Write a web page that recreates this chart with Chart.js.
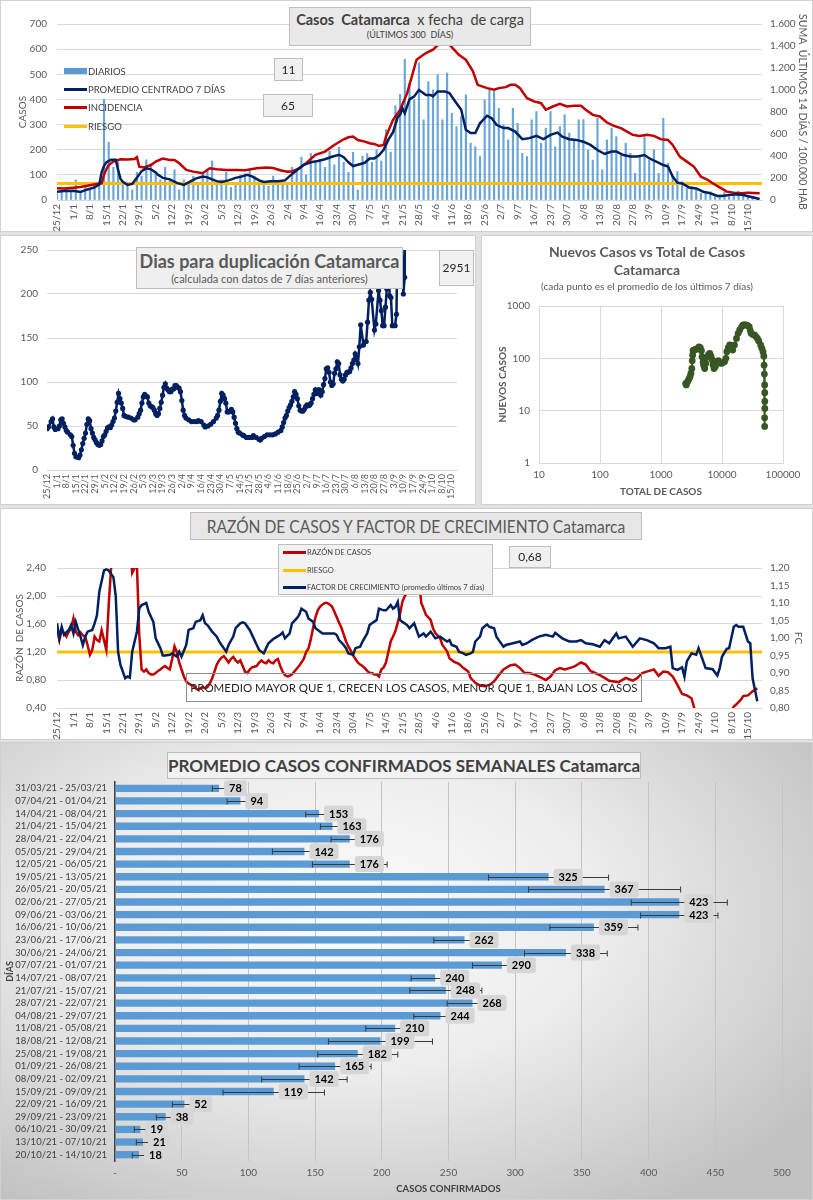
<!DOCTYPE html>
<html lang="es">
<head>
<meta charset="UTF-8">
<title>Casos Catamarca</title>
<script src="https://cdn.jsdelivr.net/npm/chart.js"></script>
<style>
  body { margin: 0; width: 813px; height: 1200px; background: #e2e2e2; position: relative; overflow: hidden;
         font-family: Lato, "Open Sans", sans-serif; }
  .panel { position: absolute; background: #fff; box-shadow: inset 0 0 0 1px #d0d0d0; }
  .panel canvas { position: absolute; left: 0; top: 0; }
  .caja { position: absolute; box-sizing: border-box; background: #e9e9e9; border: 1px solid #bdbdbd; color: #404040; text-align: center; white-space: nowrap; overflow: hidden; }
  .valor { background: #f0f0f0; font-size: 12px; color: #262626; }
  .fila { position: absolute; display: flex; align-items: center; font-size: 9.5px; color: #404040; white-space: nowrap; height: 14px; }
  .fila span { display: inline-block; width: 23px; margin-right: 1px; }
  .t3 { position: absolute; left: 0; width: 332px; text-align: center; color: #595959; white-space: nowrap; }
  .estrecho { position: absolute; left: 50%; top: 0; white-space: nowrap; transform: translateX(-50%) scaleX(0.865); }
</style>
</head>
<body>

<div class="panel" style="left:0;top:0;width:813px;height:232px">
  <canvas id="c1" width="813" height="232"></canvas>
  <div class="caja" style="left:289px;top:7px;width:242px;height:39px">
    <div style="font-size:14.5px;line-height:19px;margin-top:2px"><b>Casos&nbsp; Catamarca</b>&nbsp; x fecha&nbsp; de carga</div>
    <div style="font-size:9px;line-height:12px">(ÚLTIMOS 300&nbsp; DÍAS)</div>
  </div>
  <div class="fila" style="left:64px;top:64px"><span style="height:6px;background:#5b9bd5"></span>DIARIOS</div>
  <div class="fila" style="left:64px;top:82px"><span style="height:3px;background:#002060"></span>PROMEDIO CENTRADO 7 DÍAS</div>
  <div class="fila" style="left:64px;top:100px"><span style="height:3px;background:#c00000"></span>INCIDENCIA</div>
  <div class="fila" style="left:64px;top:119px"><span style="height:3px;background:#ffc000"></span>RIESGO</div>
  <div class="caja valor" style="left:274px;top:58px;width:29px;height:23px;line-height:21px">11</div>
  <div class="caja valor" style="left:263px;top:94px;width:50px;height:23px;line-height:21px">65</div>
</div>

<div class="panel" style="left:0;top:235px;width:476px;height:270px">
  <canvas id="c2" width="476" height="270"></canvas>
  <div class="caja" style="left:136px;top:12px;width:267px;height:42px;background:#efefef;color:#595959">
    <div style="font-size:18px;font-weight:bold;line-height:22px;margin-top:2px">Dias para duplicación Catamarca</div>
    <div style="font-size:11px;line-height:14px">(calculada con datos de 7 días anteriores)</div>
  </div>
  <div class="caja valor" style="left:439px;top:15px;width:35px;height:36px;line-height:34px">2951</div>
</div>

<div class="panel" style="left:481px;top:235px;width:332px;height:270px">
  <canvas id="c3" width="332" height="270"></canvas>
  <div class="t3" style="top:8px;font-size:14px;font-weight:bold;line-height:18px">Nuevos Casos vs Total de Casos<br>Catamarca</div>
  <div class="t3" style="top:45px;font-size:10px;line-height:13px">(cada punto es el promedio de los últimos 7 días)</div>
</div>

<div class="panel" style="left:0;top:508px;width:813px;height:232px">
  <canvas id="c4" width="813" height="232"></canvas>
  <div class="caja" style="left:190px;top:4px;width:452px;height:28px;line-height:26px;font-size:18px;color:#595959;background:#e6e6e6"><div class="estrecho">RAZÓN DE CASOS Y FACTOR DE CRECIMIENTO Catamarca</div></div>
  <div class="caja" style="left:278px;top:36px;width:215px;height:51px;background:#f2f2f2"></div>
  <div class="fila" style="left:283px;top:37px;font-size:7.5px"><span style="height:3px;background:#c00000"></span>RAZÓN DE CASOS</div>
  <div class="fila" style="left:283px;top:55px;font-size:7.5px"><span style="height:3px;background:#ffc000"></span>RIESGO</div>
  <div class="fila" style="left:283px;top:72px;font-size:7.5px"><span style="height:3px;background:#002060"></span>FACTOR DE CRECIMIENTO (promedio últimos 7 días)</div>
  <div class="caja valor" style="left:509px;top:38px;width:42px;height:22px;line-height:20px">0,68</div>
  <div class="caja" style="left:186px;top:165px;width:456px;height:29px;line-height:27px;background:transparent;border-color:#8c8c8c;font-size:11.5px;color:#262626">PROMEDIO MAYOR QUE 1, CRECEN LOS CASOS, MENOR QUE 1, BAJAN LOS CASOS</div>
</div>

<div class="panel" style="left:0;top:742px;width:813px;height:458px;background:radial-gradient(ellipse 70% 75% at 42% 38%, #fbfbfb 0%, #ededed 45%, #d2d2d2 80%, #c2c2c2 100%)">
  <canvas id="c5" width="813" height="458"></canvas>
  <div class="caja" style="left:167px;top:10px;width:474px;height:27px;line-height:25px;font-size:17px;font-weight:bold;background:#f2f2f2">PROMEDIO CASOS CONFIRMADOS SEMANALES Catamarca</div>
</div>

<script>
// etiquetas semanales del eje de fechas (día 0 = 25/12)
const fechas = ['25/12','1/1','8/1','15/1','22/1','29/1','5/2','12/2','19/2','26/2','5/3','12/3','19/3','26/3','2/4','9/4','16/4','23/4','30/4','7/5','14/5','21/5','28/5','4/6','11/6','18/6','25/6','2/7','9/7','16/7','23/7','30/7','6/8','13/8','20/8','27/8','3/9','10/9','17/9','24/9','1/10','8/10','15/10'];

// casos diarios, uno cada 2 días desde 25/12
const diarios = [
  25,40,45,30,80,35,50,45,60,70,
  400,230,130,150,60,55,40,110,95,160,
  140,110,80,130,75,120,40,80,60,95,
  70,110,120,155,60,80,110,50,70,100,
  105,120,95,80,60,55,95,60,80,70,
  130,120,170,100,185,150,160,130,195,140,
  210,150,110,190,40,175,185,150,200,155,
  280,190,375,420,560,465,398,545,319,471,
  438,498,319,505,345,292,332,418,226,212,
  173,398,438,432,365,299,239,365,305,186,
  173,319,352,226,286,352,212,292,339,266,
  239,319,320,199,159,325,120,239,286,252,
  186,226,186,106,173,252,159,200,106,325,
  146,93,113,73,46,53,40,27,33,33,
  13,20,30,13,27,35,20,13,15,7];

// promedio centrado 7 días
const promDias = [0,3,7,10,13,16,18,19,20,21, 23,25,26,27,28,30,32,34,36,38, 40,42,43,45,48,51,54,56,59,62,
  64,66,68,70,73,76,78,81,83,86, 88,91,94,97,99,101,103,105,108,111, 114,117,120,122,124,126,128,131,133,135,
  137,139,141,143,145,146,147,148,150,152, 154,157,159,160,162,165,167,169,172,174, 176,178,180,183,185,187,190,192,195,198,
  201,204,207,210,213,215,218,221,224,227, 230,233,236,238,241,244,247,250,252,255, 258,260,262,264,266,269,272,275,278,281,
  283,286,289,292,295,299];
const promVals = [33,36,37,32,42,50,62,110,135,150, 160,160,120,85,72,60,64,88,115,126, 122,110,100,88,82,68,60,70,85,93,
  90,82,75,72,78,88,92,100,94,78, 72,75,75,78,95,110,125,140,150,155, 162,172,180,170,150,135,140,148,165,165,
  178,200,240,270,330,339,365,345,400,412, 438,418,418,412,432,432,425,398,359,279, 266,266,305,335,325,299,286,286,272,242,
  246,255,242,259,268,252,242,239,232,219, 199,183,193,193,179,173,173,179,166,153, 139,133,93,69,66,50,46,33,27,16,
  16,20,23,20,13,4];

// incidencia: suma últimos 14 días / 100.000 hab
const incDias = [0,3,7,10,14,18,19,20,21,22, 24,27,30,33,34,35,37,40,42,45, 48,50,52,55,58,62,65,68,72,76,
  80,85,89,92,95,98,100,103,106,110, 114,118,122,124,126,128,131,133,135,137, 139,140,143,146,149,153,154,157,160,163,
  167,171,174,177,179,183,186,188,191,193, 195,197,200,203,206,208,211,214,217,220, 223,225,228,231,234,237,240,242,245,248,
  251,254,257,260,262,265,268,271,274,277, 279,282,285,288,291,294,299];
const incVals = [106,105,112,118,135,150,152,230,280,318, 349,370,368,372,389,303,295,318,349,376, 364,364,334,273,258,243,288,280,273,273,
  270,288,295,290,270,258,260,288,334,410, 440,500,552,570,577,545,531,516,510,492, 500,577,729,820,971,1275,1290,1336,1366,1427,
  1412,1320,1275,1169,1047,1017,1002,1017,1026,1047, 1047,1017,926,896,880,820,850,874,850,856, 856,820,774,759,704,674,653,628,592,583,
  592,583,553,546,501,395,349,304,212,182, 152,115,76,67,61,67,61];
const riesgoInc = 150;

// días para duplicación
const dupDias = [0,1,3,4,5,6,8,9,10,11, 12,13,14,15,17,18,19,20,21,23, 24,25,26,27,28,29,30,31,32,33,
  34,35,36,37,38,39,40,41,42,43, 44,45,46,47,48,49,50,51,52,53, 54,55,56,57,59,61,63,64,66,67,
  68,69,70,71,72,73,74,75,76,77, 78,79,80,81,82,83,84,85,86,87, 88,89,90,91,92,93,94,95,96,97,
  98,99,100,101,103,105,107,109,110,112, 114,115,117,119,121,123,124,125,126,127, 128,129,130,131,132,133,134,135,136,137,
  138,139,140,142,143,145,147,149,150,152, 154,155,156,158,160,162,164,166,168,170, 171,172,173,174,175,176,177,178,179,180,
  181,182,183,184,185,186,187,188,189,190, 191,192,193,194,195,196,197,198,199,200, 201,202,203,204,205,206,207,208,209,210,
  211,212,213,214,215,216,217,218,219,220, 221,222,223,224,225,226,227,228,230,232, 233,234,235,236,238,239,241,242,243,244,
  245,246,247,248,249,250,251,253,254,255, 257,259,260,261];
const dupVals = [47,49,55,58,49,46,47,50,57,58, 53,49,45,43,40,38,28,19,15,14, 17,23,30,36,42,52,58,56,47,42,
  37,34,31,29,28,29,33,38,40,44, 48,49,48,51,55,59,67,77,87,81, 76,70,62,61,60,59,57,57,60,64,
  68,76,83,86,84,83,76,73,72,71, 68,64,62,64,70,77,85,94,98,93, 91,89,89,92,92,96,96,94,93,89,
  79,68,62,59,57,55,55,55,56,55, 51,49,50,52,55,59,62,68,78,87, 85,81,76,66,66,67,69,66,60,53,
  47,43,42,40,39,37,37,37,39,37, 35,34,36,38,40,40,40,41,43,45, 49,54,59,62,67,71,74,78,83,89,
  86,81,73,68,67,67,69,72,74,73, 74,76,81,86,91,87,91,91,85,89, 97,104,115,116,111,100,96,98,110,115,
  123,121,108,103,101,103,108,111,111,112, 116,121,125,132,128,121,140,165,142,146, 168,193,202,194,159,166,204,193,181,164,
  164,185,206,300,198,196,164,164,177,300, 300,200,219,2951];

// nuevos casos vs total de casos (promedio 7 días)
const totalCasos = [2535,2600,2700,2800,2900,3000,3100,3200,3250,3300, 3350,3450,3600,3800,4000,4200,4400,4600,4700,4900,
  5000,5200,5400,5700,6000,6300,6600,6900,7100,7400, 7800,8200,8700,9200,9800,10400,11000,11600,12000,12700,
  13400,14200,15000,16000,17300,18400,19500,21000,22000,23500, 25000,26500,28000,29000,30000,32000,34000,36000,38000,40000,
  43000,45000,47000,48500,49000,49500,50000,50200,50300,50300, 50000,50100];
const nuevosCasos = [33,31,35,38,41,45,52,64,90,115, 140,144,146,150,155,166,160,140,107,85,
  74,64,80,105,118,124,110,93,75,64, 70,86,90,82,80,84,86,100,134,160,
  180,165,144,180,240,300,348,400,432,440, 432,420,400,340,300,285,280,260,240,215,
  180,155,134,110,74,50,31,22,15,11, 7.3,5];

// razón de casos
const razonDias = [0,1,2,3,4,5,6,7,8,9, 10,11,12,13,14,15,16,17,18,19, 20,21,22,23,24,
  31,32,33,34,35,36,37,38,39,40, 41,42,43,44,45,46,47,48,49,50, 51,52,53,54,55,56,57,58,59,60,
  61,62,63,64,65,66,67,68,69,70, 71,72,73,74,75,76,77,78,79,80, 81,82,83,84,85,86,87,88,89,90,
  91,92,93,94,95,96,97,98,99,100, 101,102,103,104,105,106,107,108,109,110, 111,112,113,114,115,116,117,118,119,120,
  121,122,123,124,125,126,127,128,129,130, 131,132,133,134,135,136,137,138,139,140, 141,142,143,144,145,146,147,148,149,
  151,153,155,156,157,159,160,161,163,164, 166,167,169,171,173,175,176,178,180,182, 184,186,188,190,193,195,197,199,201,203,
  205,208,210,212,214,216,218,220,223,225, 227,229,231,233,235,237,239,242,245,247, 249,252,254,256,258,260,262,264,266,268,
  270,271,272,286,288,289,291,292,294,296, 298];
const razonVals = [1.54,1.37,1.51,1.47,1.42,1.49,1.54,1.68,1.49,1.44, 1.48,1.44,1.42,1.30,1.16,1.23,1.42,1.37,1.35,1.51, 1.37,1.23,1.87,2.39,2.7,
  2.7,2.33,2.40,2.45,1.45,0.95,0.92,0.95,0.90,0.88, 0.88,0.90,0.93,0.95,0.98,1.00,0.97,0.95,1.10,1.28, 1.20,1.05,0.95,0.85,0.78,0.75,0.73,0.72,0.68,0.66,
  0.68,0.70,0.68,0.70,0.75,0.82,0.92,1.02,1.08,1.12, 1.14,1.10,1.05,1.10,1.13,1.08,1.05,1.08,1.00,0.92, 0.90,0.95,0.98,0.99,1.00,1.05,1.08,1.05,1.04,1.08,
  1.05,1.04,1.08,1.10,1.00,0.92,0.87,0.85,0.86,0.88, 0.92,0.96,1.00,1.05,1.10,1.20,1.25,1.38,1.55,1.70, 1.80,1.85,1.88,1.90,1.90,1.88,1.85,1.78,1.70,1.62,
  1.55,1.45,1.35,1.28,1.22,1.15,1.10,1.05,1.02,1.00, 0.97,0.93,0.90,0.90,0.88,0.88,0.85,0.95,0.98,1.05, 1.20,1.35,1.42,1.50,1.62,1.75,1.92,2.00,2.05,
  2.5,2.6,1.9,1.82,1.73,1.66,1.54,1.47,1.40,1.30, 1.21,1.11,1.06,1.03,0.97,0.92,0.83,0.76,0.72,0.71, 0.73,0.78,0.87,0.95,1.01,1.02,0.97,0.90,0.90,0.88,
  0.85,0.80,0.85,0.94,0.97,0.95,0.97,0.99,1.05,1.02, 0.93,0.90,0.87,0.83,0.79,0.78,0.77,0.83,0.79,0.83, 0.90,0.93,0.95,0.86,0.92,0.91,0.85,0.73,0.60,0.58,
  0.54,0.42,0.30,0.30,0.42,0.45,0.52,0.57,0.58,0.64, 0.68];
const riesgoRazon = 1.2;

// factor de crecimiento (promedio últimos 7 días)
const fcDias = [0,1,2,3,5,6,7,8,10,11, 12,13,15,16,17,18,20,21,22,24, 25,26,27,29,30,31,32,34,35,36,
  38,39,41,42,44,45,46,48,49,51, 52,53,55,56,58,59,61,62,63,64, 65,66,68,69,70,72,73,75,76,78,
  79,80,82,83,85,86,88,89,90,92, 93,95,96,97,99,100,102,103,104,106, 107,109,110,112,113,116,118,119,120,122,
  123,124,126,127,129,130,132,133,134,136, 137,139,140,142,143,144,145,146,147,149, 150,152,153,154,156,157,159,160,161,163,
  164,166,167,168,170,171,173,174,176,177, 178,180,181,183,184,186,187,188,190,191, 194,197,198,200,202,205,208,211,212,215,
  218,221,223,225,228,231,233,235,238,239, 242,245,248,251,254,256,259,261,262,264, 266,267,268,270,272,273,275,276,279,281,
  282,283,285,286,288,289,290,292,294,295, 296,298];
const fcVals = [1.042,1.00,1.032,1.009,1.023,1.037,1.013,1.046,1.004,0.98, 1.004,1.018,1.023,1.042,1.065,1.132,1.193,1.196,1.193,1.174,
  1.12,0.96,0.923,0.885,0.89,0.887,0.961,1.018,1.084,1.094, 1.10,1.075,1.046,0.999,0.971,0.95,0.95,0.952,0.956,0.947,
  0.961,0.947,0.98,1.023,1.028,1.046,1.051,1.065,1.042,1.037, 1.028,1.018,1.004,0.99,0.98,0.961,0.98,1.004,1.028,1.042,
  1.045,1.042,1.023,1.009,0.98,0.966,0.956,0.971,0.985,0.997, 1.001,1.009,1.016,0.999,1.013,1.042,1.056,1.065,1.084,1.075,
  1.056,1.046,1.028,1.018,1.013,1.013,1.013,1.009,0.994,0.98, 0.971,0.956,0.952,0.971,0.975,0.99,1.013,1.037,1.042,1.051,
  1.084,1.079,1.079,1.094,1.084,1.089,1.103,1.051,1.046,1.037, 1.028,1.042,1.023,1.004,1.013,1.004,1.018,1.009,0.999,1.004,
  0.999,0.99,0.994,0.98,0.975,0.961,0.956,0.952,0.956,0.961, 0.99,1.004,1.028,1.039,1.032,1.028,1.004,0.994,0.975,0.98,
  0.985,0.99,0.98,0.985,0.994,1.004,1.009,1.004,1.015,0.999, 0.99,0.99,0.994,0.985,0.982,0.975,0.994,0.985,1.013,0.999,
  1.004,0.975,0.999,0.994,0.985,0.971,0.971,0.975,0.914,0.909, 0.916,0.89,0.933,0.956,0.952,0.971,0.933,0.914,0.911,0.893,
  0.914,0.947,0.969,0.971,1.032,1.037,1.032,1.032,0.99,0.985, 0.885,0.819];

// promedio semanal de casos confirmados
const semanas = ['31/03/21 - 25/03/21','07/04/21 - 01/04/21','14/04/21 - 08/04/21','21/04/21 - 15/04/21','28/04/21 - 22/04/21',
  '05/05/21 - 29/04/21','12/05/21 - 06/05/21','19/05/21 - 13/05/21','26/05/21 - 20/05/21','02/06/21 - 27/05/21',
  '09/06/21 - 03/06/21','16/06/21 - 10/06/21','23/06/21 - 17/06/21','30/06/21 - 24/06/21','07/07/21 - 01/07/21',
  '14/07/21 - 08/07/21','21/07/21 - 15/07/21','28/07/21 - 22/07/21','04/08/21 - 29/07/21','11/08/21 - 05/08/21',
  '18/08/21 - 12/08/21','25/08/21 - 19/08/21','01/09/21 - 26/08/21','08/09/21 - 02/09/21','15/09/21 - 09/09/21',
  '22/09/21 - 16/09/21','29/09/21 - 23/09/21','06/10/21 - 30/09/21','13/10/21 - 07/10/21','20/10/21 - 14/10/21'];
const promSemanal = [78,94,153,163,176,142,176,325,367,423, 423,359,262,338,290,240,248,268,244,210, 199,182,165,142,119,52,38,19,21,18];
const errSemanal = [5,10,10,9,14,24,28,45,57,36, 29,33,23,31,22,18,27,19,20,22, 39,30,27,32,38,9,7,4.5,5,5];

Chart.defaults.font.family = 'Lato, "Open Sans", sans-serif';
Chart.defaults.color = '#595959';
Chart.defaults.animation = false;
Chart.defaults.responsive = false;
Chart.defaults.maintainAspectRatio = false;
Chart.defaults.events = [];
Chart.defaults.plugins.legend.display = false;
Chart.defaults.plugins.tooltip.enabled = false;

const AZUL = '#002060', ROJO = '#c00000', AMARILLO = '#ffc000', CELESTE = '#5b9bd5';
const pts = (xs, ys) => xs.map((x, i) => ({ x: x, y: ys[i] }));
const miles = v => v >= 1000 ? Math.floor(v / 1000) + '.' + String(v % 1000).padStart(3, '0') : String(v);
const coma = v => v.toFixed(2).replace('.', ',');

function ejeFechas(maximo, alto, tam) {
  return {
    type: 'linear', min: 0, max: maximo, offset: false,
    grid: { display: false, drawTicks: false },
    border: { color: '#d9d9d9' },
    ticks: {
      stepSize: 7, autoSkip: false, includeBounds: false, minRotation: 90, maxRotation: 90, padding: 4,
      font: { size: tam },
      callback: v => { const k = Math.round(v / 7); return Math.abs(v - 7 * k) < 0.01 ? (fechas[k] || '') : ''; }
    },
    afterFit: s => { s.height = alto; }
  };
}

// 1. casos diarios, promedio e incidencia
new Chart(document.getElementById('c1'), {
  type: 'bar',
  data: {
    datasets: [
      { type: 'line', data: pts(promDias, promVals), yAxisID: 'y', borderColor: AZUL, borderWidth: 2.5, pointRadius: 0, order: 1 },
      { type: 'line', data: pts(incDias, incVals), yAxisID: 'y2', borderColor: ROJO, borderWidth: 2.5, pointRadius: 0, order: 2 },
      { type: 'line', data: [{ x: 0, y: riesgoInc }, { x: 300, y: riesgoInc }], yAxisID: 'y2', borderColor: AMARILLO, borderWidth: 3, pointRadius: 0, order: 3 },
      { type: 'bar', data: diarios.map((v, i) => ({ x: i * 2, y: v })), yAxisID: 'y', backgroundColor: '#6aa5da', barThickness: 1.5, order: 4 }
    ]
  },
  options: {
    layout: { padding: { top: 24 } },
    scales: {
      x: ejeFechas(300, 32, 10),
      y: {
        min: 0, max: 700, ticks: { stepSize: 100, padding: 10, font: { size: 10 } },
        grid: { color: '#d9d9d9', drawTicks: false }, border: { display: false },
        title: { display: true, text: 'CASOS', font: { size: 10 }, padding: { top: 17, bottom: 0 } },
        afterFit: s => { s.width = 57; }
      },
      y2: {
        position: 'right', min: 0, max: 1600,
        ticks: { stepSize: 200, padding: 8, font: { size: 10 }, callback: miles },
        grid: { display: false, drawTicks: false }, border: { display: false },
        title: { display: true, text: 'SUMA  ÚLTIMOS 14 DÍAS / 100.000 HAB', font: { size: 10.5 }, padding: { top: 4, bottom: 0 } },
        afterFit: s => { s.width = 51; }
      }
    }
  }
});

// 2. días para duplicación
new Chart(document.getElementById('c2'), {
  type: 'line',
  data: { datasets: [{ data: pts(dupDias, dupVals), borderColor: AZUL, borderWidth: 2.5, pointRadius: 2.6, pointBackgroundColor: AZUL, pointBorderWidth: 0 }] },
  options: {
    layout: { padding: { top: 14, right: 19 } },
    scales: {
      x: ejeFechas(298, 35, 9),
      y: {
        min: 0, max: 250, ticks: { stepSize: 50, padding: 9, font: { size: 10 } },
        grid: { color: '#d9d9d9', drawTicks: false }, border: { display: false },
        afterFit: s => { s.width = 47; }
      }
    }
  }
});

// 3. nuevos casos vs total (log-log)
const decadas = (a, b) => { const r = []; for (let v = a; v <= b; v *= 10) r.push({ value: v }); return r; };
new Chart(document.getElementById('c3'), {
  type: 'scatter',
  data: { datasets: [{ data: pts(totalCasos, nuevosCasos), showLine: true, borderColor: '#375623', borderWidth: 2,
    pointRadius: 3.4, pointBackgroundColor: '#375623', pointBorderWidth: 0 }] },
  options: {
    layout: { padding: { top: 71, right: 30 } },
    scales: {
      x: {
        type: 'logarithmic', min: 10, max: 100000,
        afterBuildTicks: s => { s.ticks = decadas(10, 100000); },
        ticks: { padding: 6, font: { size: 10 }, callback: v => String(v) },
        grid: { color: '#d9d9d9', drawTicks: false }, border: { color: '#d9d9d9' },
        title: { display: true, text: 'TOTAL DE CASOS', font: { size: 10, weight: 'bold' }, padding: { top: 0, bottom: 7 } },
        afterFit: s => { s.height = 42; }
      },
      y: {
        type: 'logarithmic', min: 1, max: 1000,
        afterBuildTicks: s => { s.ticks = decadas(1, 1000); },
        ticks: { padding: 9, font: { size: 10 }, callback: v => String(v) },
        grid: { color: '#d9d9d9', drawTicks: false }, border: { color: '#d9d9d9' },
        title: { display: true, text: 'NUEVOS CASOS', font: { size: 10, weight: 'bold' }, padding: { top: 16, bottom: 0 } },
        afterFit: s => { s.width = 58; }
      }
    }
  }
});

// 4. razón de casos y factor de crecimiento
new Chart(document.getElementById('c4'), {
  type: 'line',
  data: {
    datasets: [
      { data: pts(fcDias, fcVals), yAxisID: 'y2', borderColor: AZUL, borderWidth: 2.5, pointRadius: 0, order: 1 },
      { data: pts(razonDias, razonVals), yAxisID: 'y', borderColor: ROJO, borderWidth: 2.5, pointRadius: 0, order: 2 },
      { data: [{ x: 0, y: riesgoRazon }, { x: 300, y: riesgoRazon }], yAxisID: 'y', borderColor: AMARILLO, borderWidth: 3, pointRadius: 0, order: 3 }
    ]
  },
  options: {
    layout: { padding: { top: 60 } },
    scales: {
      x: ejeFechas(300, 32, 10),
      y: {
        min: 0.4, max: 2.4, ticks: { stepSize: 0.2, padding: 11, font: { size: 10 }, callback: coma },
        grid: { color: '#d9d9d9', drawTicks: false }, border: { display: false },
        title: { display: true, text: 'RAZÓN  DE CASOS', font: { size: 10 }, padding: { top: 14, bottom: 0 } },
        afterFit: s => { s.width = 57; }
      },
      y2: {
        position: 'right', min: 0.8, max: 1.2,
        ticks: { stepSize: 0.05, padding: 8, font: { size: 10 }, callback: coma },
        grid: { display: false, drawTicks: false }, border: { display: false },
        title: { display: true, text: 'FC', font: { size: 10 }, padding: { top: 9, bottom: 0 } },
        afterFit: s => { s.width = 51; }
      }
    }
  }
});

// 5. promedio semanal con barras de error y etiquetas
const barrasError = {
  id: 'barrasError',
  afterDatasetsDraw(chart) {
    const { ctx } = chart;
    const x = chart.scales.x, y = chart.scales.y;
    ctx.save();
    ctx.strokeStyle = '#3a3a3a';
    ctx.lineWidth = 1;
    promSemanal.forEach((v, i) => {
      const py = Math.round(y.getPixelForValue(i)) + 0.5;
      const a = x.getPixelForValue(v - errSemanal[i]), b = x.getPixelForValue(v + errSemanal[i]);
      ctx.beginPath();
      ctx.moveTo(a, py); ctx.lineTo(b, py);
      ctx.moveTo(a, py - 3); ctx.lineTo(a, py + 3);
      ctx.moveTo(b, py - 3); ctx.lineTo(b, py + 3);
      ctx.stroke();
    });
    ctx.font = 'bold 11px Lato, "Open Sans", sans-serif';
    ctx.textAlign = 'center';
    ctx.textBaseline = 'middle';
    promSemanal.forEach((v, i) => {
      const py = y.getPixelForValue(i);
      const t = String(v);
      const w = ctx.measureText(t).width + 10;
      const bx = x.getPixelForValue(v) + 5;
      ctx.fillStyle = '#d6d6d6';
      ctx.beginPath();
      ctx.roundRect(bx, py - 8, w, 16, 3);
      ctx.fill();
      ctx.fillStyle = '#000';
      ctx.fillText(t, bx + w / 2, py + 0.5);
    });
    ctx.restore();
  }
};

new Chart(document.getElementById('c5'), {
  type: 'bar',
  data: { labels: semanas, datasets: [{ data: promSemanal, backgroundColor: CELESTE, barPercentage: 0.58, categoryPercentage: 1 }] },
  options: {
    indexAxis: 'y',
    layout: { padding: { top: 40, right: 31 } },
    scales: {
      x: {
        min: 0, max: 500, ticks: { stepSize: 50, padding: 6, font: { size: 10 }, callback: v => v === 0 ? '-' : String(v) },
        grid: { color: '#c4c4c4', drawTicks: false }, border: { display: false },
        title: { display: true, text: 'CASOS CONFIRMADOS', color: '#404040', font: { size: 9.5, weight: 'bold' }, padding: { top: 0, bottom: 5 } },
        afterFit: s => { s.height = 39; }
      },
      y: {
        ticks: { autoSkip: false, padding: 8, color: '#404040', font: { size: 9.5 } },
        grid: { display: false, drawTicks: false }, border: { color: '#404040', width: 1.5 },
        title: { display: true, text: 'DÍAS', color: '#404040', font: { size: 9, weight: 'bold' }, padding: { top: 5, bottom: 0 } },
        afterFit: s => { s.width = 115; }
      }
    }
  },
  plugins: [barrasError]
});
</script>
</body>
</html>
